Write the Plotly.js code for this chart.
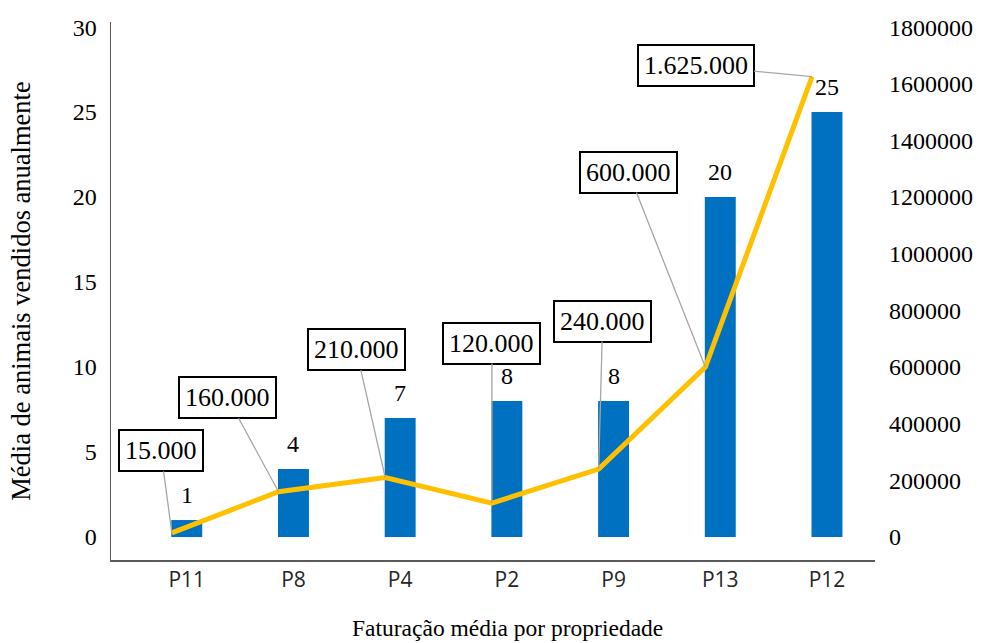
<!DOCTYPE html>
<html>
<head>
<meta charset="utf-8">
<script src="https://cdn.plot.ly/plotly-3.0.1.min.js"></script>
<style>
  html, body { margin: 0; padding: 0; background: #fff; }
  #chart { width: 982px; height: 643px; }
</style>
</head>
<body>
<div id="chart"></div>
<script>
// Properties, ordered by annual revenue
const properties = ['P11', 'P8', 'P4', 'P2', 'P9', 'P13', 'P12'];
// Average number of animals sold per year (left axis, bars)
const animalsSold = [1, 4, 7, 8, 8, 20, 25];
// Average revenue per property (right axis, line)
const revenue = [15000, 160000, 210000, 120000, 240000, 600000, 1625000];
// Offsets (pixels) of each revenue callout box from its point
const calloutDx = [-11, -51, -29, 0, 4, -77, -116];
const calloutDy = [-82, -94, -128, -160, -148, -195, -11];

const serif = 'Liberation Serif';
const sans = 'Open Sans';

function thousands(v) {
  return String(v).replace(/\B(?=(\d{3})+(?!\d))/g, '.');
}

const bars = {
  type: 'bar',
  x: properties,
  y: animalsSold,
  xaxis: 'x',
  yaxis: 'y',
  width: 0.29,
  marker: { color: '#0070C0' },
  hoverinfo: 'skip'
};

const line = {
  type: 'scatter',
  mode: 'lines',
  x: properties,
  y: revenue,
  xaxis: 'x2',
  yaxis: 'y2',
  line: { color: '#FFC000', width: 5 },
  hoverinfo: 'skip'
};

const annotations = [];
properties.forEach((p, i) => {
  annotations.push({
    xref: 'x', yref: 'y', x: p, y: animalsSold[i],
    text: String(animalsSold[i]), showarrow: false, yshift: 25,
    font: { family: serif, size: 24, color: '#000' }
  });
  annotations.push({
    xref: 'x2', yref: 'y2', x: p, y: revenue[i],
    text: thousands(revenue[i]),
    showarrow: true, arrowhead: 0, arrowwidth: 1.3, arrowcolor: '#A6A6A6',
    ax: calloutDx[i], ay: calloutDy[i],
    bgcolor: '#fff', bordercolor: '#000', borderwidth: 2, borderpad: 5,
    font: { family: serif, size: 26, color: '#000' }
  });
});

// x-axis title
annotations.push({
  xref: 'paper', yref: 'paper', x: 0.5196, y: -0.1264,
  xanchor: 'center', yanchor: 'middle', showarrow: false,
  text: 'Faturação média por propriedade',
  font: { family: serif, size: 23.5, color: '#000' }
});

const layout = {
  width: 982,
  height: 643,
  margin: { l: 111, r: 107, t: 22, b: 83 },
  paper_bgcolor: '#fff',
  plot_bgcolor: '#fff',
  showlegend: false,
  xaxis: {
    type: 'category',
    range: [-0.71, 6.45],
    showgrid: false, zeroline: false,
    showline: true, linecolor: '#595959', linewidth: 1.5,
    ticks: '', ticklabelstandoff: 0,
    tickfont: { family: sans, size: 21, color: '#262626' }
  },
  xaxis2: {
    type: 'category',
    overlaying: 'x',
    range: [-0.57, 6.59],
    visible: false
  },
  yaxis: {
    range: [-1.35, 30.3],
    tickvals: [0, 5, 10, 15, 20, 25, 30],
    showgrid: false, zeroline: false,
    showline: true, linecolor: '#595959', linewidth: 1.5,
    ticks: '', ticklabelstandoff: 8,
    tickfont: { family: serif, size: 24, color: '#000' },
    title: { text: 'Média de animais vendidos anualmente', standoff: 34,
             font: { family: serif, size: 26.5, color: '#000' } }
  },
  yaxis2: {
    overlaying: 'y',
    side: 'right',
    range: [-81000, 1818000],
    tickvals: [0, 200000, 400000, 600000, 800000, 1000000, 1200000, 1400000, 1600000, 1800000],
    ticktext: ['0', '200000', '400000', '600000', '800000', '1000000', '1200000', '1400000', '1600000', '1800000'],
    showgrid: false, zeroline: false, showline: false,
    ticks: '', ticklabelstandoff: 13,
    tickfont: { family: serif, size: 24, color: '#000' }
  },
  annotations: annotations
};

Plotly.newPlot('chart', [bars, line], layout, { displayModeBar: false, staticPlot: true });
</script>
</body>
</html>
